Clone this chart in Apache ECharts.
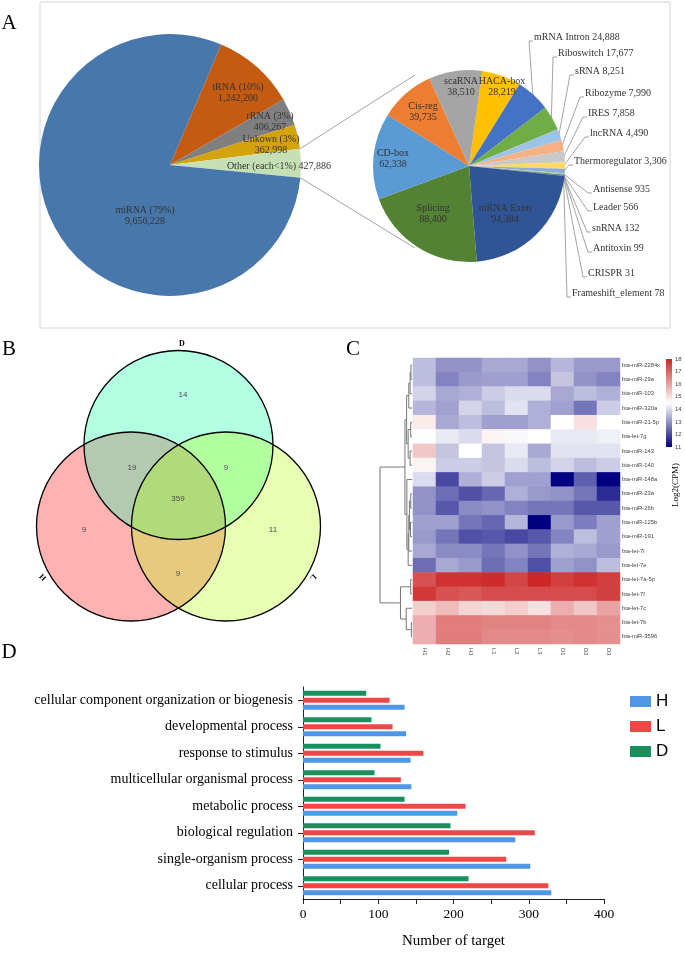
<!DOCTYPE html>
<html><head><meta charset="utf-8">
<script src="https://cdn.jsdelivr.net/npm/echarts@6/dist/echarts.min.js"></script>
<style>html,body{margin:0;padding:0;background:#fff}#c{width:685px;height:963px}</style>
</head><body><div id="c"></div>
<script>
// ---------- DATA ----------
// Panel A, main pie (clockwise from tRNA)
const mainNames  = ['tRNA (10%)', 'rRNA (3%)', 'Unkown (3%)', 'Other (each<1%)', 'miRNA (79%)'];
const mainValues = [1242200, 406267, 362998, 427886, 9656228];
// Panel A, "Other" breakdown (clockwise from HACA-box)
const otherNames  = ['HACA-box','mRNA Intron','Riboswitch','sRNA','Ribozyme','IRES','lncRNA','Thermoregulator','Antisense','Leader','snRNA','Antitoxin','CRISPR','Frameshift_element','mRNA Exon','Splicing','CD-box','Cis-reg','scaRNA'];
const otherValues = [28219,24888,17677,8251,7990,7858,4490,3306,935,566,132,99,31,78,94384,88400,62338,39735,38510];
// Panel B, Venn
const vennRegions = ['D','DH','DL','DHL','H','L','HL'];
const vennCounts  = [14, 19, 9, 359, 9, 11, 9];
// Panel C, heatmap
const samples = ['H1','H2','H3','L1','L2','L3','D1','D2','D3'];
const mirnas = ['bta-miR-2284x','bta-miR-29a','bta-miR-103','bta-miR-320a','bta-miR-21-5p','bta-let-7g','bta-miR-143','bta-miR-140','bta-miR-148a','bta-miR-23a','bta-miR-26b','bta-miR-125b','bta-miR-191','bta-let-7i','bta-let-7e','bta-let-7a-5p','bta-let-7f','bta-let-7c','bta-let-7b','bta-miR-3596'];
const expr = [
 [13.6,13.0,13.0,13.3,13.3,13.0,13.5,13.1,13.1],
 [13.6,12.8,13.1,13.2,13.2,12.8,13.7,13.0,12.8],
 [13.9,13.3,13.4,13.8,14.0,14.0,13.3,13.6,13.4],
 [13.5,13.2,13.9,13.6,14.1,13.4,13.2,12.6,13.8],
 [14.8,13.3,13.6,13.2,13.2,13.4,14.5,15.0,14.5],
 [14.5,14.2,14.0,14.7,14.4,14.5,14.2,14.2,14.3],
 [15.4,13.7,14.5,13.7,14.2,13.3,14.1,14.1,14.1],
 [14.7,13.8,13.8,13.7,14.0,13.6,13.9,13.6,13.8],
 [14.0,12.0,13.4,13.8,13.2,13.2,11.0,12.3,11.0],
 [13.0,12.5,12.1,12.4,13.4,13.1,13.0,12.6,11.6],
 [13.0,12.2,12.9,13.0,12.8,12.6,12.6,12.2,12.2],
 [13.2,13.2,12.6,12.4,13.5,11.0,13.1,12.7,13.2],
 [13.1,12.6,12.1,12.2,12.0,12.2,12.8,13.6,13.2],
 [13.3,12.9,12.9,12.6,13.0,12.6,13.4,13.3,13.1],
 [12.5,13.3,13.1,12.5,12.8,12.1,13.2,13.0,13.6],
 [17.3,17.8,17.8,17.9,17.5,18.0,17.6,17.8,17.6],
 [17.7,17.3,17.2,17.4,17.4,17.4,17.4,17.4,17.6],
 [15.3,15.6,15.2,15.1,15.3,15.0,15.8,15.4,16.0],
 [15.8,16.6,16.6,16.5,16.5,16.5,16.4,16.4,16.3],
 [15.8,16.6,16.6,16.4,16.4,16.4,16.3,16.4,16.3]
];
// dendrogram merges (hclust style: negative = leaf row (1-based), positive = merge index), height
const dendroMerges = [
 [-1,-2,0.08],[1,-3,0.15],[2,-4,0.25],[-5,-6,0.1],[-7,-8,0.15],[4,5,0.3],[3,6,0.42],
 [-10,-11,0.1],[-12,-13,0.12],[8,9,0.2],[10,-14,0.25],[11,-15,0.3],[-9,12,0.4],[7,13,0.55],
 [-16,-17,0.1],[-19,-20,0.05],[-18,16,0.45],[15,17,0.9],[14,18,2.5]
];
const colorbarTicks = [11, 18];
// Panel D, GO bars (top to bottom as read)
const goTerms = ['cellular component organization or biogenesis','developmental process','response to stimulus','multicellular organismal process','metabolic process','biological regulation','single-organism process','cellular process'];
const countH = [135, 137, 143, 144, 205, 282, 302, 330];
const countL = [115, 119, 160, 130, 216, 308, 270, 326];
const countD = [84, 91, 103, 95, 135, 196, 194, 220];

// ---------- LAYOUT / STYLE ----------
const SERIF = "'Liberation Serif','Times New Roman',serif";
const SANS = "'Liberation Sans',Arial,sans-serif";
const fmt = v => v.toLocaleString('en-US');
const P1 = {cx:170, cy:165, r:131, start:67};
const P2 = {cx:469, cy:166, r:96, start:82};
const mainColors = ['#c55a11','#7f7f7f','#d4a20a','#c5e0b4','#4777ab'];
const otherColors = ['#ffc000','#4472c4','#70ad47','#9dc3e6','#f4b183','#c9c9c9','#ffd966','#8faadc','#a9d18e','#2e75b6','#c55a11','#7f7f7f','#bf9000','#264478','#2f5597','#548235','#5b9bd5','#ed7d31','#a5a5a5'];
const mainLabelAt = [[238,93],[270,122],[271,145],[279,166],[145,216]];
const otherInsideAt = {'HACA-box':[502,87],'mRNA Exon':[505,214],'Splicing':[433,214],'CD-box':[393,159],'Cis-reg':[423,112],'scaRNA':[461,87]};
const otherOutsideAt = {'mRNA Intron':[534,37],'Riboswitch':[558,53],'sRNA':[575,71],'Ribozyme':[585,93],'IRES':[588,113],'lncRNA':[590,133],'Thermoregulator':[574,161],'Antisense':[593,189],'Leader':[593,207],'snRNA':[592,228],'Antitoxin':[593,248],'CRISPR':[588,273],'Frameshift_element':[572,293]};
const vennCircles = {H:[131,526.5], D:[178.5,445], L:[226,526.5]};
const vennR = 94.5;
const vennFill = {H:'rgba(255,0,0,0.3)', D:'rgba(0,255,165,0.3)', L:'rgba(172,255,0,0.3)'};
const vennLabelAt = [[183,395],[132,468],[226,468],[178,499],[84,530],[273,530],[178,574]];
const heatGrid = {left:413, top:358, width:207, height:286};
const dendroWidth = 32;

// edge points for pie-2 leader lines
const otherTotal = otherValues.reduce((a,b)=>a+b,0);
const otherEdge = [];
{ let cum = 0; otherValues.forEach(v => { const a = (P2.start - (cum + v/2)/otherTotal*360) * Math.PI/180; otherEdge.push([P2.cx + (P2.r-1)*Math.cos(a), P2.cy - (P2.r-1)*Math.sin(a)]); cum += v; }); }
// connector lines between pies
const mainTotal = mainValues.reduce((a,b)=>a+b,0);
const otherIdx = 3;
const before = mainValues.slice(0, otherIdx).reduce((a,b)=>a+b,0);
const aTop = (P1.start - before/mainTotal*360) * Math.PI/180;
const aBot = (P1.start - (before + mainValues[otherIdx])/mainTotal*360) * Math.PI/180;
const conTop = [[P1.cx + P1.r*Math.cos(aTop), P1.cy - P1.r*Math.sin(aTop)], [415, 75]];
const conBot = [[P1.cx + P1.r*Math.cos(aBot), P1.cy - P1.r*Math.sin(aBot)], [415, 248]];

function txt(text, x, y, size, opts) {
  opts = opts || {};
  return {type:'text', x:x, y:y, rotation: opts.rotation || 0, silent:true, z:100,
    style:{text:text, fill: opts.color || '#000', font: (opts.weight||'normal') + ' ' + size + 'px ' + (opts.family || SERIF),
      align: opts.align || 'center', verticalAlign: 'middle', textAlign: opts.align || 'center', textVerticalAlign:'middle'}};
}

const graphics = [];
// Panel A frame
graphics.push({type:'rect', shape:{x:40, y:2, width:630, height:326}, style:{fill:'none', stroke:'#d4d4d4', lineWidth:1}, silent:true});
graphics.push({type:'line', shape:{x1:conTop[0][0], y1:conTop[0][1], x2:conTop[1][0], y2:conTop[1][1]}, style:{stroke:'#8c8c8c', lineWidth:0.8}, silent:true});
graphics.push({type:'line', shape:{x1:conBot[0][0], y1:conBot[0][1], x2:conBot[1][0], y2:conBot[1][1]}, style:{stroke:'#8c8c8c', lineWidth:0.8}, silent:true});
// Venn fills then strokes
['H','D','L'].forEach(k => graphics.push({type:'circle', shape:{cx:vennCircles[k][0], cy:vennCircles[k][1], r:vennR}, style:{fill:vennFill[k], stroke:'none'}, silent:true}));
['H','D','L'].forEach(k => graphics.push({type:'circle', shape:{cx:vennCircles[k][0], cy:vennCircles[k][1], r:vennR}, style:{fill:'none', stroke:'#000', lineWidth:1.3}, silent:true}));
vennRegions.forEach((r,i) => graphics.push(txt(String(vennCounts[i]), vennLabelAt[i][0], vennLabelAt[i][1], 8, {family:SANS, color:'#4a4a4a'})));
graphics.push(txt('D', 182, 344, 8, {weight:'bold'}));
graphics.push(txt('H', 43, 577, 8, {weight:'bold', rotation: Math.PI*0.75}));
graphics.push(txt('L', 313, 577, 8, {weight:'bold', rotation: -Math.PI*0.75}));
// panel letters
graphics.push(txt('A', 9, 23, 21));
graphics.push(txt('B', 9, 349, 21));
graphics.push(txt('C', 353, 349, 21));
graphics.push(txt('D', 9, 652, 21));
// colorbar title
graphics.push(txt('Log2(CPM)', 676, 485, 9, {rotation: Math.PI/2}));

const heatData = [];
expr.forEach((row, r) => row.forEach((v, c) => heatData.push([c, r, v])));

const option = {
  animation: false,
  textStyle: {fontFamily: SERIF},
  graphic: graphics,
  legend: {data:['H','L','D'], orient:'vertical', left:625, top:688, itemWidth:21, itemHeight:11, itemGap:8,
    icon:'rect', textStyle:{fontSize:17, fontFamily:SANS, color:'#000'}, selectedMode:false},
  visualMap: {type:'continuous', show:false, min:11, max:18, seriesIndex:2, dimension:2,
    inRange:{color:['#000080','#ffffff','#cd2626']}},
  grid: [
    {left:heatGrid.left, top:heatGrid.top, width:heatGrid.width, height:heatGrid.height},
    {left:666, top:359, width:6, height:88},
    {left:303, top:687, width:301, height:212}
  ],
  xAxis: [
    {gridIndex:0, type:'category', data:samples, position:'bottom', axisLine:{show:false}, axisTick:{show:false},
      axisLabel:{rotate:-90, fontSize:5.8, fontFamily:SANS, color:'#444', margin:4}},
    {gridIndex:1, type:'value', min:0, max:1, show:false},
    {gridIndex:2, type:'value', min:0, max:400, interval:50, splitLine:{show:false},
      axisLine:{show:true, lineStyle:{color:'#222', width:1}}, axisTick:{show:true, length:5, lineStyle:{color:'#222'}},
      axisLabel:{fontSize:13.5, color:'#000', margin:8, formatter: v => (v % 100 === 0 ? String(v) : '')},
      name:'Number of target', nameLocation:'middle', nameGap:35, nameTextStyle:{fontSize:15, color:'#000'}}
  ],
  yAxis: [
    {gridIndex:0, type:'category', data:mirnas, inverse:true, position:'right', axisLine:{show:false}, axisTick:{show:false},
      axisLabel:{fontSize:5.8, fontFamily:SANS, color:'#444', margin:2}},
    {gridIndex:1, type:'value', min:colorbarTicks[0], max:colorbarTicks[1], interval:1, position:'right', splitLine:{show:false},
      axisLine:{show:false}, axisTick:{show:false}, axisLabel:{fontSize:6, fontFamily:SANS, color:'#444', margin:3}},
    {gridIndex:2, type:'category', data:goTerms.slice().reverse(),
      axisLine:{show:true, lineStyle:{color:'#222', width:1}}, axisTick:{show:true, alignWithLabel:true, length:5, lineStyle:{color:'#222'}},
      axisLabel:{fontSize:14, color:'#000', margin:10}}
  ],
  series: [
    {type:'pie', center:[P1.cx, P1.cy], radius:P1.r, startAngle:P1.start, clockwise:true, silent:true,
      avoidLabelOverlap:false, emphasis:{disabled:true},
      data: mainValues.map((v,i) => ({name:mainNames[i], value:v, itemStyle:{color:mainColors[i]}})),
      label:{show:true, position:'inside', color:'#333', fontSize:10, lineHeight:10.5, fontFamily:SERIF,
        formatter: p => p.dataIndex === otherIdx ? p.name + ' ' + fmt(p.value) : p.name + '\n' + fmt(p.value)},
      labelLine:{show:false},
      labelLayout: p => ({x:mainLabelAt[p.dataIndex][0], y:mainLabelAt[p.dataIndex][1], align:'center', verticalAlign:'middle'})
    },
    {type:'pie', center:[P2.cx, P2.cy], radius:P2.r, startAngle:P2.start, clockwise:true, silent:true,
      avoidLabelOverlap:false, emphasis:{disabled:true},
      data: otherValues.map((v,i) => {
        const inside = !!otherInsideAt[otherNames[i]];
        return {name:otherNames[i], value:v, itemStyle:{color:otherColors[i]},
          label:{position: inside ? 'inside' : 'outside'}, labelLine:{show: !inside}};
      }),
      label:{show:true, color:'#333', fontSize:10, lineHeight:10.5, fontFamily:SERIF,
        formatter: p => otherInsideAt[p.name] ? p.name + '\n' + fmt(p.value) : p.name + ' ' + fmt(p.value)},
      labelLine:{show:true, length:5, length2:5, lineStyle:{color:'#8c8c8c', width:0.8}},
      labelLayout: p => {
        const name = otherNames[p.dataIndex];
        if (otherInsideAt[name]) return {x:otherInsideAt[name][0], y:otherInsideAt[name][1], align:'center', verticalAlign:'middle'};
        const xy = otherOutsideAt[name], e = otherEdge[p.dataIndex];
        return {x:xy[0], y:xy[1], align:'left', verticalAlign:'middle',
          labelLinePoints:[e, [xy[0]-5, xy[1]+4], [xy[0]-1, xy[1]+4]]};
      }
    },
    {type:'heatmap', xAxisIndex:0, yAxisIndex:0, data:heatData, silent:true, emphasis:{disabled:true}, itemStyle:{borderWidth:0}},
    {type:'custom', xAxisIndex:0, yAxisIndex:0, silent:true, data:[[0,0]], clip:false,
      renderItem: (params, api) => {
        const left = params.coordSys.x - 1;
        const maxH = Math.max(...dendroMerges.map(m => m[2]));
        const k = dendroWidth / maxH;
        const nodes = [];
        const pos = c => c < 0 ? [left, api.coord([0, -c-1])[1]] : nodes[c-1];
        const children = [];
        dendroMerges.forEach(m => {
          const a = pos(m[0]), b = pos(m[1]);
          const x = left - m[2]*k;
          children.push({type:'polyline', shape:{points:[[a[0],a[1]],[x,a[1]],[x,b[1]],[b[0],b[1]]]},
            style:{stroke:'#777', lineWidth:1, fill:'none'}});
          nodes.push([x, (a[1]+b[1])/2]);
        });
        return {type:'group', children: children};
      }
    },
    {type:'custom', xAxisIndex:1, yAxisIndex:1, silent:true, data:[[0, colorbarTicks[0], colorbarTicks[1]]],
      renderItem: (params, api) => {
        const p0 = api.coord([0, api.value(2)]), p1 = api.coord([1, api.value(1)]);
        return {type:'rect', shape:{x:p0[0], y:p0[1], width:p1[0]-p0[0], height:p1[1]-p0[1]},
          style:{fill:new echarts.graphic.LinearGradient(0,0,0,1,[{offset:0,color:'#cd2626'},{offset:0.5,color:'#ffffff'},{offset:1,color:'#000080'}])}};
      }
    },
    {name:'D', type:'bar', xAxisIndex:2, yAxisIndex:2, data:countD.slice().reverse(), barWidth:5, barGap:'40%', itemStyle:{color:'#16905c'}, silent:true},
    {name:'L', type:'bar', xAxisIndex:2, yAxisIndex:2, data:countL.slice().reverse(), barWidth:5, barGap:'40%', itemStyle:{color:'#ef4646'}, silent:true},
    {name:'H', type:'bar', xAxisIndex:2, yAxisIndex:2, data:countH.slice().reverse(), barWidth:5, barGap:'40%', itemStyle:{color:'#4f96e6'}, silent:true}
  ]
};
const chart = echarts.init(document.getElementById('c'), null, {renderer:'canvas', width:685, height:963});
chart.setOption(option);
</script></body></html>
